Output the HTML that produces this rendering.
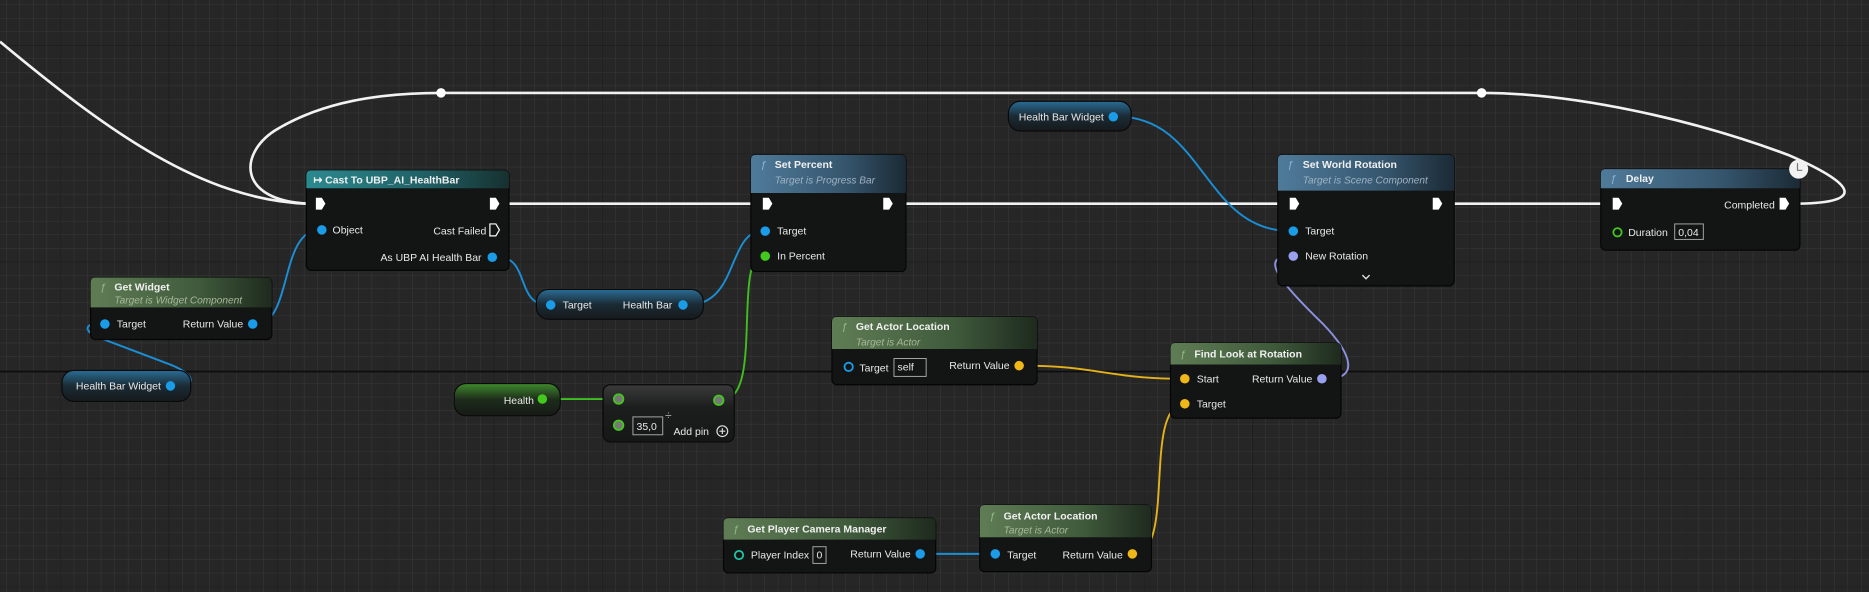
<!DOCTYPE html>
<html><head><meta charset="utf-8"><style>
html,body{margin:0;padding:0;background:#262626;overflow:hidden}
svg{display:block}
text{font-family:"Liberation Sans",sans-serif;fill:#e8e8e8;font-size:8.8px}
.t{font-size:8.8px;font-weight:bold;fill:#f0f0f0}
.s{font-size:8.5px;font-style:italic;fill:#a9b89a}
.sb{font-size:8.5px;font-style:italic;fill:#9fb3c4}
.node{fill:#131514;stroke:#050505;stroke-width:1}
</style></head><body>
<svg width="1869" height="592" viewBox="0 0 1568 497" preserveAspectRatio="none" xmlns="http://www.w3.org/2000/svg">
<defs>
<pattern id="minor" x="50.5" y="37.8" width="11.36" height="11.36" patternUnits="userSpaceOnUse">
<path d="M0 0H11.36M0 0V11.36" stroke="#393939" stroke-width="0.8" fill="none"/></pattern>
<pattern id="major" x="50.5" y="37.8" width="90.9" height="90.9" patternUnits="userSpaceOnUse">
<path d="M0 0H90.9M0 0V90.9" stroke="#181818" stroke-width="1" fill="none"/></pattern>
<linearGradient id="gGreen" x1="0" y1="0" x2="1" y2="0"><stop offset="0" stop-color="#5f7d55"/><stop offset="0.6" stop-color="#3f5a3b"/><stop offset="1" stop-color="#1e2a1e"/></linearGradient>
<linearGradient id="gBlue" x1="0" y1="0" x2="1" y2="0"><stop offset="0" stop-color="#4f7b9a"/><stop offset="0.6" stop-color="#36566e"/><stop offset="1" stop-color="#1b2a35"/></linearGradient>
<linearGradient id="gTeal" x1="0" y1="0" x2="1" y2="0"><stop offset="0" stop-color="#2b8a8f"/><stop offset="0.6" stop-color="#1f5f64"/><stop offset="1" stop-color="#17302f"/></linearGradient>
<linearGradient id="vBlue" x1="0" y1="0" x2="0" y2="1"><stop offset="0" stop-color="#2a6d95"/><stop offset="0.5" stop-color="#1b2b35"/><stop offset="1" stop-color="#161a1c"/></linearGradient>
<linearGradient id="vGreen" x1="0" y1="0" x2="0" y2="1"><stop offset="0" stop-color="#3f8a2c"/><stop offset="0.5" stop-color="#1d2b1b"/><stop offset="1" stop-color="#161a16"/></linearGradient>
<linearGradient id="vGray" x1="0" y1="0" x2="0" y2="1"><stop offset="0" stop-color="#3a3a3a"/><stop offset="0.4" stop-color="#1c1e1d"/><stop offset="1" stop-color="#161817"/></linearGradient>
</defs>
<rect width="1568" height="497" fill="#262626"/>
<rect width="1568" height="497" fill="url(#minor)"/>
<rect width="1568" height="497" fill="url(#major)"/>
<line x1="0" y1="312" x2="1568" y2="312" stroke="#0c0c0c" stroke-width="1.2"/>

<g fill="none" stroke="#f2f2f2" stroke-width="2.2">
<path d="M0,35 C90,110 170,168 258,171"/>
<path d="M258,171 C200,168 200,130 230,110 C270,85 320,78 370,78 L1243,78 C1320,78 1420,100 1500,130 C1565,158 1560,171 1505,171"/>
<path d="M427,171 H633"/>
<path d="M760,171 H1075"/>
<path d="M1220,171 H1346"/>
</g>
<circle cx="370" cy="78" r="4" fill="#fff"/>
<circle cx="1243" cy="78" r="4" fill="#fff"/>

<g fill="none" stroke-width="1.6">
<path stroke="#1a8fd6" d="M216,272 C245,270 235,193 268,193"/>
<path stroke="#1a8fd6" d="M146,324 C170,324 160,312 140,305 L82,283 C68,277 72,270 88,272"/>
<path stroke="#1a8fd6" d="M418,216 C445,216 432,256 460,256"/>
<path stroke="#1a8fd6" d="M577,256 C620,256 610,194 640,194"/>
<path stroke="#1a8fd6" d="M938,98 C1010,98 1010,194 1083,194"/>
<path stroke="#1a8fd6" d="M776,465 H833"/>
<path stroke="#3fbf1f" d="M459,335 H517"/>
<path stroke="#3fbf1f" d="M607,335 C640,335 615,215 640,215"/>
<path stroke="#8c92e0" d="M1113,318 C1140,318 1135,298 1110,272 C1075,238 1055,215 1083,215"/>
<path stroke="#e3b21a" d="M859,307 C920,307 930,318 992,318"/>
<path stroke="#e3b21a" d="M954,465 C985,458 960,345 992,339"/>
</g>

<rect class="node" x="257" y="143" width="170" height="84" rx="4"/>
<path d="M261,143 H423 Q427,143 427,147 V158 H257 V147 Q257,143 261,143Z" fill="url(#gTeal)"/>
<text x="263" y="154" class="t">↦ Cast To UBP_AI_HealthBar</text>
<path d="M265,166 h5 l3,5 -3,5 h-5z" fill="#fff"/>
<path d="M411,166 h5 l3,5 -3,5 h-5z" fill="#fff"/>
<circle cx="270" cy="193" r="4" fill="#1a9ce8"/><text x="279" y="196">Object</text>
<text x="408" y="197" text-anchor="end">Cast Failed</text>
<path d="M411,188 h5 l3,5 -3,5 h-5z" fill="none" stroke="#fff" stroke-width="1"/>
<text x="404" y="219" text-anchor="end">As UBP AI Health Bar</text>
<circle cx="413" cy="216" r="4" fill="#1a9ce8"/>

<rect class="node" x="76" y="233" width="152" height="52" rx="4"/>
<path d="M80,233 H224 Q228,233 228,237 V258 H76 V237 Q76,233 80,233Z" fill="url(#gGreen)"/>
<text x="84" y="244" style="font-style:italic;fill:#9cb88c">ƒ</text><text x="96" y="244" class="t">Get Widget</text>
<text x="96" y="255" class="s">Target is Widget Component</text>
<circle cx="88" cy="272" r="4" fill="#1a9ce8"/><text x="98" y="275">Target</text>
<text x="204" y="275" text-anchor="end">Return Value</text><circle cx="212" cy="272" r="4" fill="#1a9ce8"/>

<rect x="52" y="311" width="108" height="26" rx="10" fill="url(#vBlue)" stroke="#0a0a0a"/>
<text x="135" y="327" text-anchor="end">Health Bar Widget</text><circle cx="143" cy="324" r="4" fill="#1a9ce8"/>

<rect x="450" y="243" width="140" height="25" rx="10" fill="url(#vBlue)" stroke="#0a0a0a"/>
<circle cx="462" cy="256" r="4" fill="#1a9ce8"/><text x="472" y="259">Target</text>
<text x="564" y="259" text-anchor="end">Health Bar</text><circle cx="573" cy="256" r="4" fill="#1a9ce8"/>

<rect class="node" x="630" y="130" width="130" height="98" rx="4"/>
<path d="M634,130 H756 Q760,130 760,134 V162 H630 V134 Q630,130 634,130Z" fill="url(#gBlue)"/>
<text x="638" y="141" style="font-style:italic;fill:#8fb5d4">ƒ</text><text x="650" y="141" class="t">Set Percent</text>
<text x="650" y="154" class="sb">Target is Progress Bar</text>
<path d="M640,166 h5 l3,5 -3,5 h-5z" fill="#fff"/>
<path d="M741,166 h5 l3,5 -3,5 h-5z" fill="#fff"/>
<circle cx="642" cy="194" r="4" fill="#1a9ce8"/><text x="652" y="197">Target</text>
<circle cx="642" cy="215" r="4" fill="#42c91c"/><text x="652" y="218">In Percent</text>

<rect x="846" y="85" width="103" height="25" rx="10" fill="url(#vBlue)" stroke="#0a0a0a"/>
<text x="926" y="101" text-anchor="end">Health Bar Widget</text><circle cx="934" cy="98" r="4" fill="#1a9ce8"/>

<rect class="node" x="1072" y="130" width="148" height="110" rx="4"/>
<path d="M1076,130 H1216 Q1220,130 1220,134 V160 H1072 V134 Q1072,130 1076,130Z" fill="url(#gBlue)"/>
<text x="1080" y="141" style="font-style:italic;fill:#8fb5d4">ƒ</text><text x="1093" y="141" class="t">Set World Rotation</text>
<text x="1093" y="154" class="sb">Target is Scene Component</text>
<path d="M1082,166 h5 l3,5 -3,5 h-5z" fill="#fff"/>
<path d="M1202,166 h5 l3,5 -3,5 h-5z" fill="#fff"/>
<circle cx="1085" cy="194" r="4" fill="#1a9ce8"/><text x="1095" y="197">Target</text>
<circle cx="1085" cy="215" r="4" fill="#9aa0f0"/><text x="1095" y="218">New Rotation</text>
<path d="M1143,231 l3,3 3,-3" stroke="#ddd" stroke-width="1.2" fill="none"/>

<rect class="node" x="1343" y="142" width="167" height="68" rx="4"/>
<path d="M1347,142 H1506 Q1510,142 1510,146 V158 H1343 V146 Q1343,142 1347,142Z" fill="url(#gBlue)"/>
<text x="1351" y="153" style="font-style:italic;fill:#8fb5d4">ƒ</text><text x="1364" y="153" class="t">Delay</text>
<path d="M1353,166 h5 l3,5 -3,5 h-5z" fill="#fff"/>
<text x="1489" y="175" text-anchor="end">Completed</text>
<path d="M1493,166 h5 l3,5 -3,5 h-5z" fill="#fff"/>
<circle cx="1357" cy="195" r="3.5" fill="none" stroke="#42c91c" stroke-width="1.5"/>
<text x="1366" y="198">Duration</text>
<rect x="1405" y="188" width="24" height="13" fill="none" stroke="#aaa" stroke-width="0.8"/><text x="1408" y="198">0,04</text>
<circle cx="1509" cy="142" r="8" fill="#f2f2f2"/>
<path d="M1508,137 V143 H1512" stroke="#777" stroke-width="1" fill="none"/>

<rect x="381" y="322" width="89" height="27" rx="10" fill="url(#vGreen)" stroke="#0a0a0a"/>
<text x="448" y="339" text-anchor="end">Health</text><circle cx="455" cy="335" r="4" fill="#42c91c"/>

<rect x="506" y="323" width="110" height="48" rx="6" fill="url(#vGray)" stroke="#0a0a0a"/>
<circle cx="519" cy="335" r="4" fill="#777" stroke="#42c91c" stroke-width="1.5"/>
<circle cx="603" cy="336" r="4" fill="#777" stroke="#42c91c" stroke-width="1.5"/>
<circle cx="519" cy="357" r="4" fill="#777" stroke="#42c91c" stroke-width="1.5"/>
<rect x="531" y="350" width="25" height="15" fill="none" stroke="#aaa" stroke-width="0.8"/><text x="534" y="361">35,0</text>
<text x="558" y="352" style="fill:#aaa;font-size:10px">÷</text>
<text x="565" y="365">Add pin</text>
<circle cx="606" cy="362" r="4.5" fill="none" stroke="#ddd" stroke-width="1"/><path d="M603.5,362h5M606,359.5v5" stroke="#ddd" stroke-width="1"/>

<rect class="node" x="698" y="266" width="172" height="57" rx="4"/>
<path d="M702,266 H866 Q870,266 870,270 V293 H698 V270 Q698,266 702,266Z" fill="url(#gGreen)"/>
<text x="706" y="277" style="font-style:italic;fill:#9cb88c">ƒ</text><text x="718" y="277" class="t">Get Actor Location</text>
<text x="718" y="290" class="s">Target is Actor</text>
<circle cx="712" cy="308" r="3.5" fill="none" stroke="#1a9ce8" stroke-width="1.5"/><text x="721" y="312">Target</text>
<rect x="750" y="301" width="27" height="15" fill="none" stroke="#aaa" stroke-width="0.8"/><text x="753" y="311">self</text>
<text x="847" y="310" text-anchor="end">Return Value</text><circle cx="855" cy="307" r="4" fill="#f0b719"/>

<rect class="node" x="982" y="288" width="143" height="63" rx="4"/>
<path d="M986,288 H1121 Q1125,288 1125,292 V306 H982 V292 Q982,288 986,288Z" fill="url(#gGreen)"/>
<text x="990" y="300" style="font-style:italic;fill:#9cb88c">ƒ</text><text x="1002" y="300" class="t">Find Look at Rotation</text>
<circle cx="994" cy="318" r="4" fill="#f0b719"/><text x="1004" y="321">Start</text>
<circle cx="994" cy="339" r="4" fill="#f0b719"/><text x="1004" y="342">Target</text>
<text x="1101" y="321" text-anchor="end">Return Value</text><circle cx="1109" cy="318" r="4" fill="#9aa0f0"/>

<rect class="node" x="607" y="435" width="178" height="46" rx="4"/>
<path d="M611,435 H781 Q785,435 785,439 V453 H607 V439 Q607,435 611,435Z" fill="url(#gGreen)"/>
<text x="615" y="447" style="font-style:italic;fill:#9cb88c">ƒ</text><text x="627" y="447" class="t">Get Player Camera Manager</text>
<circle cx="620" cy="466" r="3.5" fill="none" stroke="#1fc7a8" stroke-width="1.5"/><text x="630" y="469">Player Index</text>
<rect x="682" y="459" width="11" height="14" fill="none" stroke="#aaa" stroke-width="0.8"/><text x="685" y="469">0</text>
<text x="764" y="468" text-anchor="end">Return Value</text><circle cx="772" cy="465" r="4" fill="#1a9ce8"/>

<rect class="node" x="822" y="424" width="144" height="56" rx="4"/>
<path d="M826,424 H962 Q966,424 966,428 V451 H822 V428 Q822,424 826,424Z" fill="url(#gGreen)"/>
<text x="830" y="436" style="font-style:italic;fill:#9cb88c">ƒ</text><text x="842" y="436" class="t">Get Actor Location</text>
<text x="842" y="448" class="s">Target is Actor</text>
<circle cx="835" cy="465" r="4" fill="#1a9ce8"/><text x="845" y="469">Target</text>
<text x="942" y="469" text-anchor="end">Return Value</text><circle cx="950" cy="465" r="4" fill="#f0b719"/>
</svg>
</body></html>
